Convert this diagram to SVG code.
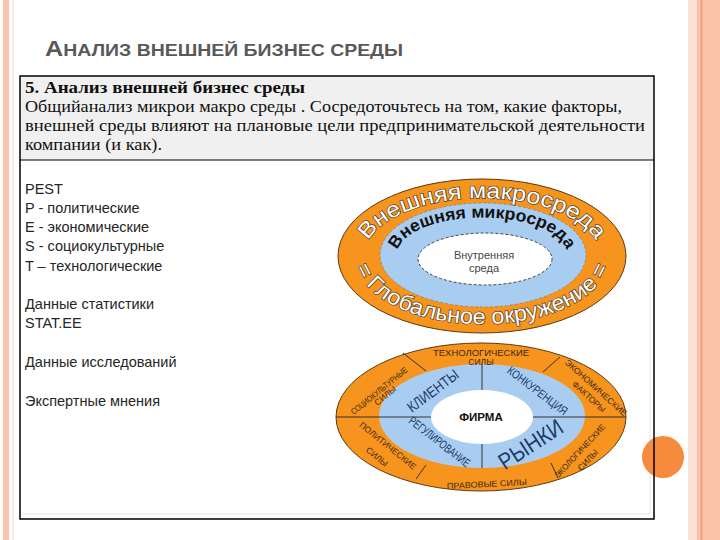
<svg xmlns="http://www.w3.org/2000/svg" width="720" height="540" viewBox="0 0 720 540">
<style>
.ttl{font-family:"Liberation Sans",Arial,sans-serif;fill:#595959;font-weight:bold}
.hd{font-family:"Liberation Serif","DejaVu Serif","Times New Roman",serif;font-size:16px;fill:#111}
.ls{font-family:"Liberation Sans",Arial,sans-serif;font-size:14.5px;fill:#262626}
.orange{fill:#f7941d;stroke:#5a3a10;stroke-width:1}
.blue{fill:#a8cdf0}
.ring{font-family:"Liberation Sans",Arial,sans-serif}
.out{fill:#fff;stroke:#4d3d30;stroke-width:1.4;paint-order:stroke;font-size:22px}
.sm{font-family:"Liberation Sans",Arial,sans-serif;font-size:8.5px;fill:#3b2a12;text-anchor:middle}
.bl{font-family:"Liberation Sans",Arial,sans-serif;fill:#1d3a6b;text-anchor:middle}
.div{stroke:#333;stroke-width:1;fill:none}
</style>
<defs>
<path id="pMacro" d="M365.8 266.1 A118 58 0 1 1 598.2 266.1"/>
<path id="pMicro" d="M399.9 264.1 A85 37 0 1 1 564.1 264.1"/>
<path id="pGlob" d="M358.4 238.4 A128 68 0 1 0 605.6 238.4"/>
</defs>
<rect width="720" height="540" fill="#fff"/>
<g id="frame">
<rect x="3" y="0" width="6" height="540" fill="#fac4ad"/>
<line x1="13" y1="0" x2="13" y2="540" stroke="#fde6dc" stroke-width="1.5"/>
<rect x="688" y="0" width="9" height="540" fill="#fbe2d6"/>
<rect x="697" y="0" width="23" height="540" fill="#fac3aa"/>
<line x1="701.5" y1="0" x2="701.5" y2="540" stroke="#f2a184" stroke-width="2"/>
</g>
<g id="title">
<text class="ttl" x="45" y="56" font-size="17" textLength="358" lengthAdjust="spacingAndGlyphs"><tspan font-size="22">А</tspan>НАЛИЗ ВНЕШНЕЙ БИЗНЕС СРЕДЫ</text>
</g>
<g id="box">
<rect x="20" y="76" width="634" height="443" fill="#fff"/>
<rect x="20.75" y="76.75" width="632.5" height="83" fill="#f0f0f0"/>
<line x1="22" y1="514" x2="650" y2="514" stroke="#e6e6e6" stroke-width="1"/>
<line x1="650" y1="162" x2="650" y2="514" stroke="#e6e6e6" stroke-width="1"/>
<circle cx="663" cy="457" r="21" fill="#f68a3d"/>
<rect x="20" y="76" width="634" height="443" fill="none" stroke="#000" stroke-width="1.5"/>
<line x1="20" y1="160" x2="654" y2="160" stroke="#000" stroke-width="1.2"/>
<text class="hd" font-family="Liberation Serif, DejaVu Serif, serif" x="25" y="93" font-weight="bold" textLength="280" lengthAdjust="spacingAndGlyphs">5. Анализ внешней бизнес среды</text>
<text class="hd" font-family="Liberation Serif, DejaVu Serif, serif" x="25" y="112" textLength="597" lengthAdjust="spacingAndGlyphs">Общийанализ микрои макро среды . Сосредоточьтесь на том, какие факторы,</text>
<text class="hd" font-family="Liberation Serif, DejaVu Serif, serif" x="25" y="131" textLength="620" lengthAdjust="spacingAndGlyphs">внешней среды влияют на плановые цели  предпринимательской  деятельности</text>
<text class="hd" font-family="Liberation Serif, DejaVu Serif, serif" x="25" y="150" textLength="137" lengthAdjust="spacingAndGlyphs">компании (и как).</text>
</g>
<g id="list">
<text class="ls" x="25" y="194">PEST</text>
<text class="ls" x="25" y="213">P - политические</text>
<text class="ls" x="25" y="232">E - экономические</text>
<text class="ls" x="25" y="251">S - социокультурные</text>
<text class="ls" x="25" y="271">T – технологические</text>
<text class="ls" x="25" y="309">Данные статистики</text>
<text class="ls" x="25" y="328">STAT.EE</text>
<text class="ls" x="25" y="367">Данные исследований</text>
<text class="ls" x="25" y="406">Экспертные мнения</text>
</g>
<g id="env-rings">
<ellipse class="orange" cx="482" cy="256" rx="144" ry="77"/>
<ellipse class="blue" cx="483" cy="255" rx="103" ry="52" stroke="#777" stroke-width="0.6" stroke-dasharray="3 2"/>
<ellipse cx="485" cy="259" rx="67" ry="26" fill="#fff" stroke="#333" stroke-width="0.9" stroke-dasharray="3 2"/>
<text class="ring out" text-anchor="middle"><textPath href="#pMacro" startOffset="50%" textLength="252" lengthAdjust="spacingAndGlyphs">Внешняя макросреда</textPath></text>
<text class="ring" font-size="17" font-weight="bold" fill="#111" text-anchor="middle"><textPath href="#pMicro" startOffset="50%" textLength="190" lengthAdjust="spacingAndGlyphs">Внешняя микросреда</textPath></text>
<text class="ring out" text-anchor="middle"><textPath href="#pGlob" startOffset="50%" textLength="292" lengthAdjust="spacingAndGlyphs">= Глобальное окружение =</textPath></text>
<text class="ring" x="484" y="259" font-size="11" fill="#444" text-anchor="middle">Внутренняя</text>
<text class="ring" x="484" y="272" font-size="11" fill="#444" text-anchor="middle">среда</text>
</g>
<g id="firm-rings">
<ellipse class="orange" cx="481" cy="417" rx="145" ry="74"/>
<ellipse class="blue" cx="482" cy="416" rx="103" ry="52"/>
<ellipse cx="482" cy="417" rx="51" ry="27" fill="#fff"/>
</g>
<g id="connectors">
<line class="div" x1="336" y1="417" x2="431" y2="417"/>
<line class="div" x1="533" y1="417" x2="626" y2="417"/>
<line class="div" x1="482" y1="364" x2="482" y2="390"/>
<line class="div" x1="482" y1="444" x2="482" y2="468"/>
<line class="div" x1="403" y1="353" x2="426" y2="371"/>
<line class="div" x1="560" y1="357" x2="543" y2="372"/>
<line class="div" x1="426" y1="465" x2="416" y2="479"/>
<line class="div" x1="551" y1="463" x2="558" y2="478"/>
</g>
<g id="firm-labels">
<text class="sm" x="481" y="356" font-size="9.5" textLength="96" lengthAdjust="spacingAndGlyphs">ТЕХНОЛОГИЧЕСКИЕ</text>
<text class="sm" x="481" y="365" font-size="9">СИЛЫ</text>
<text class="sm" transform="translate(381 393) rotate(-39)" font-size="7" textLength="70" lengthAdjust="spacingAndGlyphs">СОЦИОКУЛЬТУРНЫЕ</text>
<text class="sm" transform="translate(387 398) rotate(-39)" font-size="6.5">СИЛЫ</text>
<text class="sm" transform="translate(594 390) rotate(42)" font-size="9.5" textLength="80" lengthAdjust="spacingAndGlyphs">ЭКОНОМИЧЕСКИЕ</text>
<text class="sm" transform="translate(587 399) rotate(42)" font-size="9">ФАКТОРЫ</text>
<text class="sm" transform="translate(386 448) rotate(39)" font-size="9.5" textLength="70" lengthAdjust="spacingAndGlyphs">ПОЛИТИЧЕСКИЕ</text>
<text class="sm" transform="translate(375 459) rotate(39)" font-size="9">СИЛЫ</text>
<text class="sm" transform="translate(487 487) rotate(-3)" font-size="9.5" textLength="80" lengthAdjust="spacingAndGlyphs">ПРАВОВЫЕ СИЛЫ</text>
<text class="sm" transform="translate(582 453) rotate(-47)" font-size="9.5" textLength="70" lengthAdjust="spacingAndGlyphs">ЭКОЛОГИЧЕСКИЕ</text>
<text class="sm" transform="translate(590 462) rotate(-47)" font-size="9">СИЛЫ</text>
<text class="bl" transform="translate(436 395) rotate(-37)" font-size="15" textLength="60" lengthAdjust="spacingAndGlyphs">КЛИЕНТЫ</text>
<text class="bl" transform="translate(535 394) rotate(37)" font-size="12" textLength="72" lengthAdjust="spacingAndGlyphs">КОНКУРЕНЦИЯ</text>
<text class="bl" transform="translate(437 445) rotate(38)" font-size="12" textLength="74" lengthAdjust="spacingAndGlyphs">РЕГУЛИРОВАНИЕ</text>
<text class="bl" transform="translate(535 451) rotate(-33)" font-size="23" textLength="72" lengthAdjust="spacingAndGlyphs">РЫНКИ</text>
<text x="481" y="421" font-family="Liberation Sans, Arial, sans-serif" font-size="11.5" font-weight="bold" fill="#111" text-anchor="middle">ФИРМА</text>
</g>
</svg>
